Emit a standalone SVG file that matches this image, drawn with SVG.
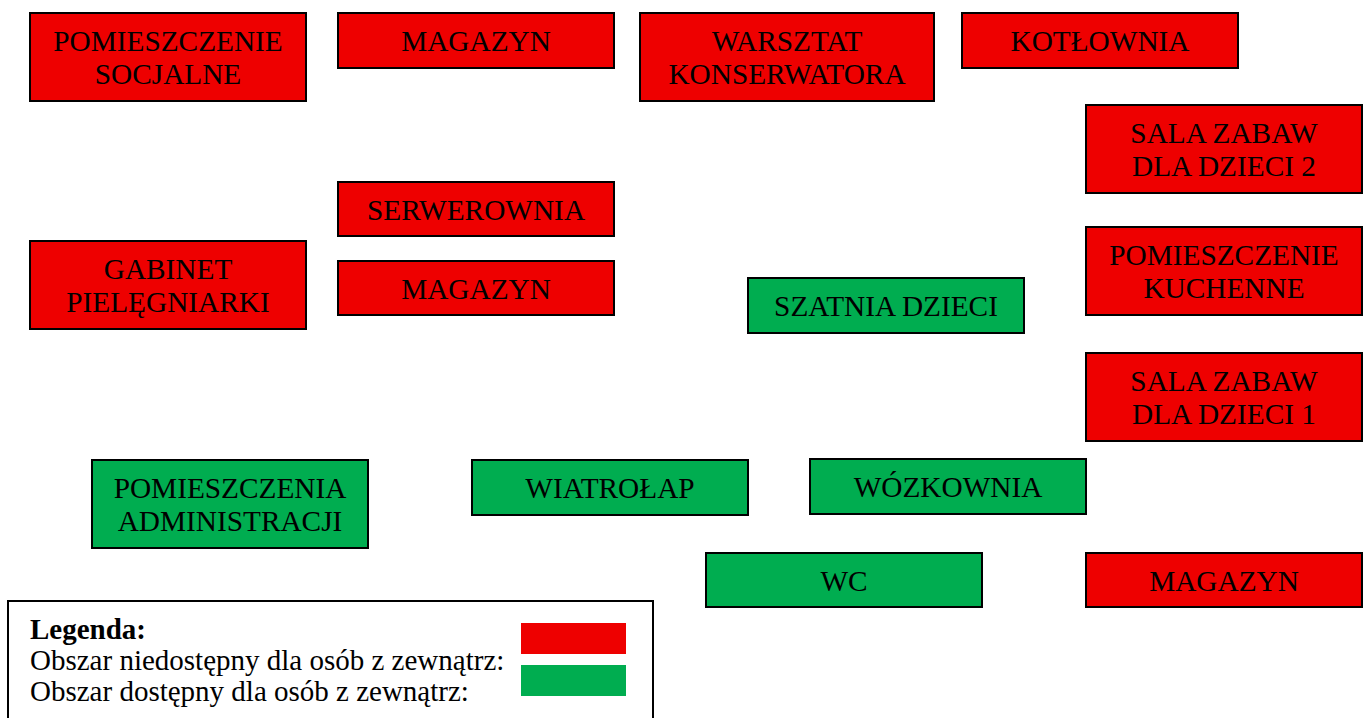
<svg xmlns="http://www.w3.org/2000/svg" width="1366" height="718" viewBox="0 0 1366 718">
<style>
.r{fill:#EE0000;stroke:#000;stroke-width:2}
.g{fill:#00AD50;stroke:#000;stroke-width:2}
text{font-family:"Liberation Serif","Times New Roman",serif;font-size:29.3px;fill:#000}
.c{text-anchor:middle}
.lg{font-size:29px}
</style>
<rect width="1366" height="718" fill="#fff"/>
<g id="pomieszczenie-socjalne"><rect class="r" x="30" y="13" width="276" height="88"/><text class="c" x="168" y="51">POMIESZCZENIE</text><text class="c" x="168" y="84">SOCJALNE</text></g>
<g id="magazyn-1"><rect class="r" x="338" y="13" width="276" height="55"/><text class="c" x="476" y="51">MAGAZYN</text></g>
<g id="warsztat"><rect class="r" x="640" y="13" width="294" height="88"/><text class="c" x="787" y="51">WARSZTAT</text><text class="c" x="787" y="84">KONSERWATORA</text></g>
<g id="kotlownia"><rect class="r" x="962" y="13" width="276" height="55"/><text class="c" x="1100" y="51">KOTŁOWNIA</text></g>
<g id="sala-2"><rect class="r" x="1086" y="105" width="276" height="88"/><text class="c" x="1224" y="143">SALA ZABAW</text><text class="c" x="1224" y="176">DLA DZIECI 2</text></g>
<g id="serwerownia"><rect class="r" x="338" y="182" width="276" height="54"/><text class="c" x="476" y="220">SERWEROWNIA</text></g>
<g id="gabinet"><rect class="r" x="30" y="241" width="276" height="88"/><text class="c" x="168" y="279">GABINET</text><text class="c" x="168" y="312">PIELĘGNIARKI</text></g>
<g id="magazyn-2"><rect class="r" x="338" y="261" width="276" height="54"/><text class="c" x="476" y="299">MAGAZYN</text></g>
<g id="kuchenne"><rect class="r" x="1086" y="227" width="276" height="88"/><text class="c" x="1224" y="265">POMIESZCZENIE</text><text class="c" x="1224" y="298">KUCHENNE</text></g>
<g id="szatnia"><rect class="g" x="748" y="278" width="276" height="55"/><text class="c" x="886" y="316">SZATNIA DZIECI</text></g>
<g id="sala-1"><rect class="r" x="1086" y="353" width="276" height="88"/><text class="c" x="1224" y="391">SALA ZABAW</text><text class="c" x="1224" y="424">DLA DZIECI 1</text></g>
<g id="administracja"><rect class="g" x="92" y="460" width="276" height="88"/><text class="c" x="230" y="498">POMIESZCZENIA</text><text class="c" x="230" y="531">ADMINISTRACJI</text></g>
<g id="wiatrolap"><rect class="g" x="472" y="460" width="276" height="55"/><text class="c" x="610" y="498">WIATROŁAP</text></g>
<g id="wozkownia"><rect class="g" x="810" y="459" width="276" height="55"/><text class="c" x="948" y="497">WÓZKOWNIA</text></g>
<g id="wc"><rect class="g" x="706" y="553" width="276" height="54"/><text class="c" x="844" y="591">WC</text></g>
<g id="magazyn-3"><rect class="r" x="1086" y="553" width="276" height="54"/><text class="c" x="1224" y="591">MAGAZYN</text></g>
<g id="connectors"></g>
<g id="legend">
<rect x="8" y="601" width="645" height="130" fill="#fff" stroke="#000" stroke-width="2"/>
<text class="lg" x="30" y="639" font-weight="bold">Legenda:</text>
<text class="lg" x="30" y="670">Obszar niedostępny dla osób z zewnątrz:</text>
<text class="lg" x="30" y="701">Obszar dostępny dla osób z zewnątrz:</text>
<rect x="521" y="623" width="105" height="31" fill="#EE0000"/>
<rect x="521" y="665" width="105" height="31" fill="#00AD50"/>
</g>
</svg>
